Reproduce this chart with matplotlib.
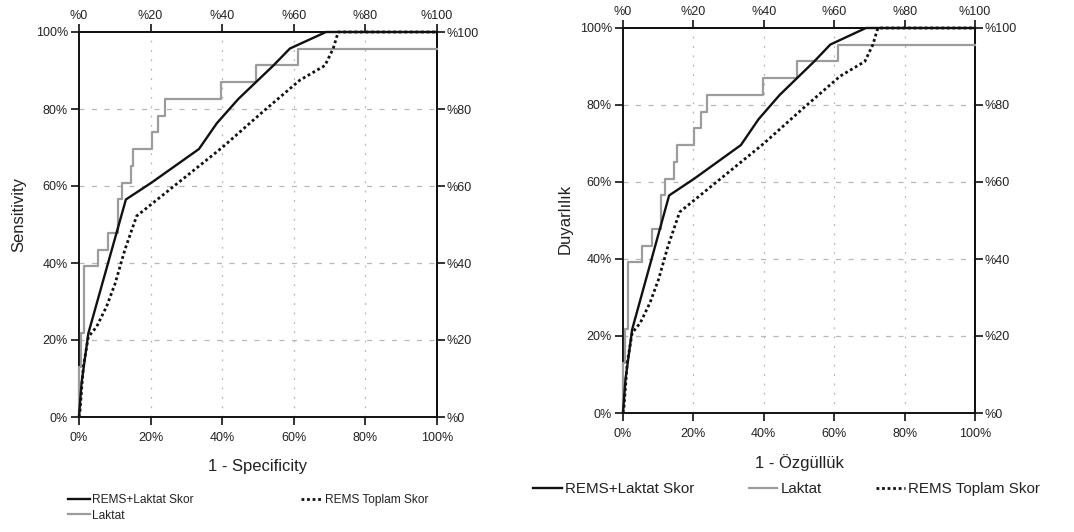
import matplotlib
matplotlib.use("Agg")
import matplotlib.pyplot as plt
from matplotlib.lines import Line2D
from matplotlib.ticker import FuncFormatter

plt.rcParams['font.family'] = ['Liberation Sans', 'DejaVu Sans']

# ---- data ----
combined_fpr = [0, 0.007, 0.026, 0.131, 0.203, 0.335, 0.385, 0.445, 0.543, 0.589, 0.69, 1.0]
combined_tpr = [0, 0.087, 0.217, 0.565, 0.609, 0.696, 0.763, 0.826, 0.913, 0.957, 1.0, 1.0]

laktat_fpr = [0, 0, 0.006, 0.006, 0.015, 0.015, 0.054, 0.054, 0.082, 0.082, 0.108, 0.108,
              0.119, 0.119, 0.145, 0.145, 0.152, 0.152, 0.203, 0.203, 0.222, 0.222, 0.24, 0.24,
              0.398, 0.398, 0.494, 0.494, 0.611, 0.611, 1.0]
laktat_tpr = [0, 0.13, 0.13, 0.217, 0.217, 0.391, 0.391, 0.435, 0.435, 0.478, 0.478, 0.565,
              0.565, 0.609, 0.609, 0.652, 0.652, 0.696, 0.696, 0.739, 0.739, 0.783, 0.783, 0.826,
              0.826, 0.87, 0.87, 0.913, 0.913, 0.957, 0.957]

rems_fpr = [0, 0.003, 0.012, 0.026, 0.049, 0.077, 0.101, 0.128, 0.161, 0.40, 0.51, 0.617,
            0.687, 0.71, 0.724, 1.0]
rems_tpr = [0, 0.018, 0.13, 0.208, 0.234, 0.287, 0.347, 0.434, 0.522, 0.70, 0.79, 0.875,
            0.913, 0.957, 1.0, 1.0]

tick_vals = [0, 0.2, 0.4, 0.6, 0.8, 1.0]
series_labels = ["REMS+Laktat Skor", "Laktat", "REMS Toplam Skor"]

W, H = 1074, 532
fig = plt.figure(figsize=(W / 100, H / 100), dpi=100)

TXT = '#222222'
BLACK = '#111111'
GRAY = '#9c9c9c'


def px_axes(l, t, r, b):
    return fig.add_axes([l / W, 1 - b / H, (r - l) / W, (b - t) / H])


def draw(ax, xlabel, ylabel, ylab_xy):
    ax.plot(laktat_fpr, laktat_tpr, color=GRAY, lw=1.6, zorder=3, clip_on=False)
    ax.plot(rems_fpr, rems_tpr, color=BLACK, lw=2.0, linestyle=(0, (1, 1)), zorder=4, clip_on=False)
    ax.plot(combined_fpr, combined_tpr, color=BLACK, lw=1.7, zorder=5, clip_on=False)
    ax.set_xlim(0, 1)
    ax.set_ylim(0, 1)
    ax.set_xticks(tick_vals)
    ax.set_yticks(tick_vals)
    pct = FuncFormatter(lambda v, p: f"{v*100:.0f}%")
    ax.xaxis.set_major_formatter(pct)
    ax.yaxis.set_major_formatter(pct)
    ax.tick_params(direction='out', length=6, width=1.2, colors=BLACK, labelcolor=TXT,
                   labelsize=9, pad=2)
    ax.tick_params(axis='x', pad=5)
    for s in ax.spines.values():
        s.set_linewidth(1.4)
        s.set_color(BLACK)
    for v in tick_vals[1:-1]:
        ax.axhline(v, color='#b8b8b8', lw=0.9, linestyle=(0, (4, 6)), zorder=1)
        ax.axvline(v, color='#b8b8b8', lw=0.9, linestyle=(0, (1.5, 6)), zorder=1)
    pre = FuncFormatter(lambda v, p: f"%{v*100:.0f}")
    sx = ax.secondary_xaxis('top')
    sx.set_xticks(tick_vals)
    sx.xaxis.set_major_formatter(pre)
    sx.tick_params(direction='out', length=6, width=1.2, colors=BLACK, labelcolor=TXT,
                   labelsize=9, pad=1.5)
    sy = ax.secondary_yaxis('right')
    sy.set_yticks(tick_vals)
    sy.yaxis.set_major_formatter(pre)
    sy.tick_params(direction='out', length=6, width=1.2, colors=BLACK, labelcolor=TXT,
                   labelsize=9, pad=1)
    for s in list(sx.spines.values()) + list(sy.spines.values()):
        s.set_linewidth(1.4)
        s.set_color(BLACK)
    ax.set_xlabel(xlabel, fontsize=12, color=TXT, va='center')
    ax.set_ylabel(ylabel, fontsize=12, color=TXT, va='center')
    ax.xaxis.set_label_coords(0.5, -0.128)
    ax.yaxis.set_label_coords(*ylab_xy)


ax1 = px_axes(79, 32, 437, 417)
draw(ax1, "1 - Specificity", "Sensitivity", (-0.169, 0.525))

ax2 = px_axes(623, 28, 975, 413)
draw(ax2, "1 - Özgüllük", "Duyarlılık", (-0.165, 0.505))


def handles():
    return [Line2D([], [], color=BLACK, lw=1.7),
            Line2D([], [], color=GRAY, lw=1.6),
            Line2D([], [], color=BLACK, lw=2.0, linestyle=(0, (1, 1)))]


leg1 = fig.legend(handles(), series_labels, loc='upper left',
                  bbox_to_anchor=(68 / W, 1 - 494 / H), ncol=2, frameon=False,
                  fontsize=8.6, handlelength=1.85, handletextpad=0.15, columnspacing=9.0,
                  borderpad=0, borderaxespad=0, labelspacing=0.3, labelcolor=TXT)

leg2 = fig.legend(handles(), series_labels, loc='upper left',
                  bbox_to_anchor=(533 / W, 1 - 482 / H), ncol=3, frameon=False,
                  fontsize=10.9, handlelength=1.9, handletextpad=0.2, columnspacing=3.6,
                  borderpad=0, borderaxespad=0, labelcolor=TXT)

fig.savefig("out.png", dpi=100, facecolor='white')
